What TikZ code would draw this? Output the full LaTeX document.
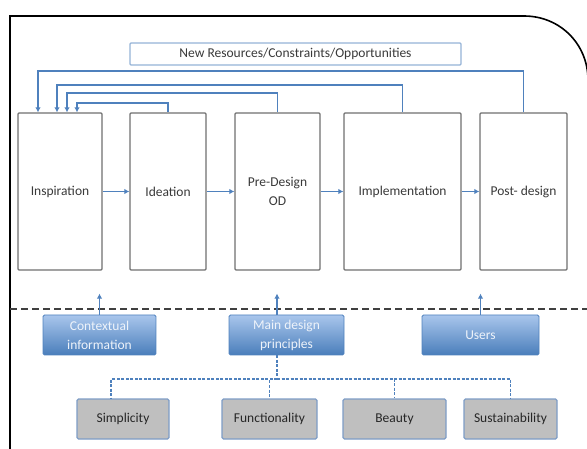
\documentclass[tikz,border=0pt]{standalone}
\usepackage{fontspec}
\setmainfont{Carlito}
\usetikzlibrary{arrows.meta}

\definecolor{lineblue}{HTML}{4F81BD}
\definecolor{boxgray}{HTML}{707070}
\definecolor{labelgray}{HTML}{3A3A3A}
\definecolor{resblue}{HTML}{95B3D7}
\definecolor{srctop}{HTML}{A9C6EC}
\definecolor{srcbottom}{HTML}{4A7EBB}
\definecolor{srctext}{HTML}{EEF3FA}
\definecolor{valfill}{HTML}{BFBFBF}
\definecolor{valedge}{HTML}{7E9CC6}

\tikzset{
  stage/.style={draw=boxgray, line width=1.3pt, fill=white, text=labelgray,
    align=center, inner sep=0pt, rounded corners=1pt},
  topbox/.style={draw=resblue, line width=1.4pt, fill=white, text=labelgray,
    inner sep=0pt, rounded corners=1pt},
  source/.style={draw=lineblue, line width=0.8pt, top color=srctop,
    bottom color=srcbottom, text=srctext, align=center, inner sep=0pt,
    rounded corners=1.5pt},
  value/.style={draw=valedge, line width=1.2pt, fill=valfill, text=black!85,
    align=center, inner sep=0pt, minimum height=40pt, rounded corners=1.5pt},
  flow/.style={lineblue, line width=1.8pt, -{Latex[length=5pt,width=5.5pt]}},
  tree/.style={lineblue, line width=1.3pt, dash pattern=on 3pt off 1.5pt},
  sep/.style={black!75, line width=1.7pt, dash pattern=on 7pt off 4pt}
}

\begin{document}
\begin{tikzpicture}[x=1pt,y=-1pt,font=\fontsize{13.5}{19}\selectfont]
\useasboundingbox (0,0) rectangle (587,449);

% outer frame
\draw[line width=1.6pt] (10,452) -- (10,16) -- (524,16)
  .. controls (560,16) and (588,44) .. (588,80) -- (588,452);

% top label
\node[topbox, minimum width=331pt, minimum height=22pt] (res) at (295.5,54) {New Resources/Constraints/Opportunities};

% the five stages
\node[stage, minimum width=84pt, minimum height=157pt] (insp) at (60,191.5) {Inspiration};
\node[stage, minimum width=76pt, minimum height=157pt] (idea) at (168,191.5) {Ideation};
\node[stage, minimum width=85pt, minimum height=157pt] (pre) at (277.5,191.5) {Pre-Design\\OD};
\node[stage, minimum width=117pt, minimum height=157pt] (impl) at (402.5,191.5) {Implementation};
\node[stage, minimum width=87pt, minimum height=157pt] (post) at (523.5,191.5) {Post- design};

\draw[flow] (insp.east) -- (idea.west);
\draw[flow] (idea.east) -- (pre.west);
\draw[flow] (pre.east) -- (impl.west);
\draw[flow] (impl.east) -- (post.west);

% feedback loops
\draw[flow] (idea.north) -- ++(0,-9) -| ([xshift=17pt]insp.north);
\draw[flow] (pre.north) -- ++(0,-19) -| ([xshift=7pt]insp.north);
\draw[flow] (impl.north) -- ++(0,-27) -| ([xshift=-3pt]insp.north);
\draw[flow] (post.north) -- ++(0,-41) -| ([xshift=-22pt]insp.north);

% separator
\draw[sep] (10,309) -- (587,309);

% inputs
\node[source, minimum width=113pt, minimum height=40pt] (ctx) at (99.5,335) {Contextual\\information};
\node[source, minimum width=115pt, minimum height=40pt] (main) at (286.5,335) {Main design\\principles};
\node[source, minimum width=117pt, minimum height=40pt] (users) at (480.5,335) {Users};

\draw[flow] (ctx.north) -- ++(0,-21);
\draw[flow] ([xshift=-9.5pt]main.north) -- ++(0,-21);
\draw[flow] (users.north) -- ++(0,-21);

% design principles
\node[value, minimum width=92pt] (simp) at (123,419) {Simplicity};
\node[value, minimum width=95pt] (func) at (269.5,419) {Functionality};
\node[value, minimum width=103pt] (beauty) at (394.5,419) {Beauty};
\node[value, minimum width=93pt] (sust) at (510.5,419) {Sustainability};

\coordinate (hub) at (277,379);
\draw[tree] ([xshift=-9.5pt]main.south) -- (hub);
\draw[tree] (hub) -| ([xshift=-12pt]simp.north);
\draw[tree] (hub) -| (func.north);
\draw[tree] (hub) -| (beauty.north);
\draw[tree] (hub) -| (sust.north);
\end{tikzpicture}
\end{document}
